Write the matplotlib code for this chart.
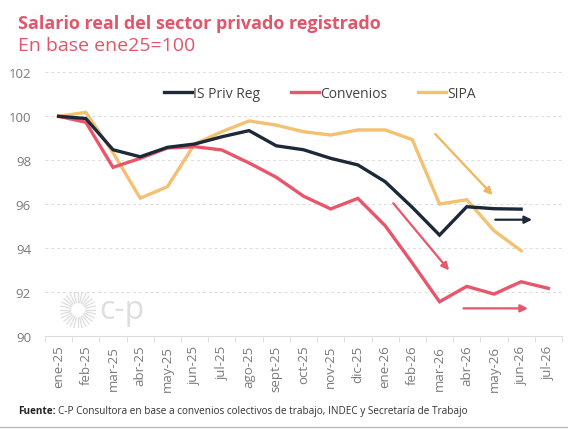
import numpy as np
import matplotlib
matplotlib.use("Agg")
import matplotlib.pyplot as plt

NAVY   = "#1d2939"
RED    = "#e8566b"
ORANGE = "#f4c172"
TITLE_C = "#e0566b"
TICK_C  = "#7a7a7a"
GRID_C  = "#dcdcdc"
LOGO_C  = "#dedede"

months = ["ene-25", "feb-25", "mar-25", "abr-25", "may-25", "jun-25", "jul-25",
          "ago-25", "sept-25", "oct-25", "nov-25", "dic-25", "ene-26", "feb-26",
          "mar-26", "abr-26", "may-26", "jun-26", "jul-26"]

is_priv_reg = [100.0, 99.9, 98.48, 98.16, 98.59, 98.74, 99.07, 99.35, 98.66,
               98.48, 98.09, 97.79, 97.03, 95.86, 94.6, 95.89, 95.8, 95.78]
convenios = [100.0, 99.73, 97.68, 98.09, 98.56, 98.62, 98.47, 97.88, 97.23,
             96.37, 95.79, 96.27, 95.03, 93.33, 91.57, 92.27, 91.92, 92.48, 92.18]
sipa = [100.0, 100.18, 98.35, 96.28, 96.8, 98.74, 99.3, 99.79, 99.6,
        99.3, 99.15, 99.38, 99.38, 98.94, 96.01, 96.21, 94.8, 93.89]

plt.rcParams.update({
    "font.family": ["Open Sans", "DejaVu Sans"],
    "font.size": 10,
})

fig = plt.figure(figsize=(5.68, 4.31), dpi=100)
ax = fig.add_axes([0.0792, 0.2174, 0.9102, 0.6125])

x_all = np.arange(len(months))
ax.plot(x_all[:len(is_priv_reg)], is_priv_reg, color=NAVY, lw=2.4,
        label="IS Priv Reg", zorder=4, solid_joinstyle="miter")
ax.plot(x_all[:len(convenios)], convenios, color=RED, lw=2.4,
        label="Convenios", zorder=3, solid_joinstyle="miter")
ax.plot(x_all[:len(sipa)], sipa, color=ORANGE, lw=2.4,
        label="SIPA", zorder=2, solid_joinstyle="miter")

# trend arrows
arrows = [
    ((13.84, 99.2), (15.95, 96.42), "#f0b55e"),
    ((12.3, 96.05), (14.35, 93.0), RED),
    ((16.05, 95.3), (17.4, 95.3), NAVY),
    ((14.88, 91.27), (17.25, 91.27), RED),
]
for (x0, y0), (x1, y1), c in arrows:
    ax.annotate("", xy=(x1, y1), xytext=(x0, y0),
                arrowprops=dict(arrowstyle="-|>", color=c, lw=1.6,
                                mutation_scale=11, shrinkA=0, shrinkB=0),
                zorder=5)

ax.set_xlim(-0.5, len(months) - 0.5)
ax.set_ylim(90, 102)
ax.set_yticks(np.arange(90, 103, 2))
ax.set_xticks(x_all)
ax.set_xticklabels(months, rotation=90, color=TICK_C, fontsize=9.5)
ax.set_xticks(np.arange(-0.5, len(months), 1), minor=True)
ax.tick_params(axis="x", which="major", length=0, pad=6)
ax.tick_params(axis="x", which="minor", length=4, color=GRID_C)
ax.tick_params(axis="y", length=0, labelcolor=TICK_C, labelsize=9.5, pad=10)
ax.grid(axis="y", color=GRID_C, linestyle=(0, (3, 3)), lw=0.7)
for s in ["top", "right", "left"]:
    ax.spines[s].set_visible(False)
ax.spines["bottom"].set_color(GRID_C)

leg = ax.legend(loc="upper center", bbox_to_anchor=(0.532, 0.995), ncol=3,
                frameon=False, fontsize=10, handlelength=2.0,
                handletextpad=0.1, columnspacing=2.2)
for t in leg.get_texts():
    t.set_color("#444444")

# watermark logo
logo = fig.add_axes([60 / 568, 1 - 329 / 431, 36 / 568, 36 / 431])
logo.set_xlim(-1, 1)
logo.set_ylim(-1, 1)
logo.axis("off")
for a in np.linspace(0, 2 * np.pi, 28, endpoint=False):
    logo.plot([0.42 * np.cos(a), np.cos(a)], [0.42 * np.sin(a), np.sin(a)],
              color=LOGO_C, lw=0.9)
fig.text(99 / 568, 1 - 311 / 431, "c-p", color=LOGO_C, fontsize=23,
         va="center", ha="left")

fig.text(18 / 568, 1 - 24 / 431, "Salario real del sector privado registrado",
         color=TITLE_C, fontsize=13, fontweight="bold", va="center")
fig.text(18 / 568, 1 - 46 / 431, "En base ene25=100",
         color=TITLE_C, fontsize=14, va="center")

# source line: bold label, then regular text right after it
src = fig.text(18 / 568, 1 - 412 / 431, "Fuente:", color="#222222", fontsize=7.2,
               fontweight="bold", va="center")
fig.canvas.draw()
bb = src.get_window_extent(renderer=fig.canvas.get_renderer())
fig.text(bb.x1 / fig.bbox.width + 2 / 568, 1 - 412 / 431,
         "C-P Consultora en base a convenios colectivos de trabajo, INDEC y Secretaría de Trabajo",
         color="#333333", fontsize=7.2, va="center")
fig.add_artist(plt.Line2D([0, 1], [1 - 428 / 431] * 2, color="#bbbbbb", lw=1,
                          transform=fig.transFigure))

fig.savefig("out.png", dpi=100, facecolor="white")
